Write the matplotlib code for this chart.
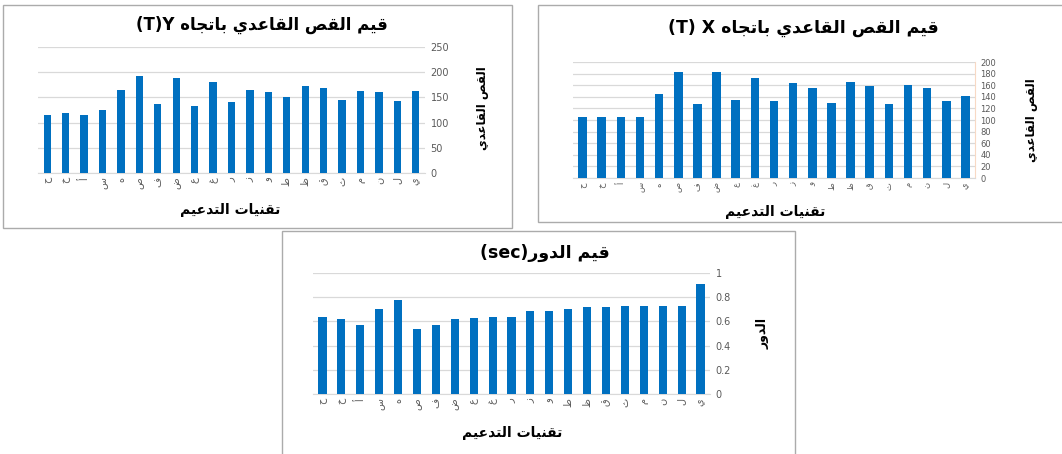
import matplotlib
matplotlib.use("Agg")
import matplotlib.pyplot as plt
from matplotlib.patches import Rectangle

# --- data -------------------------------------------------------------
support_types = ['ح', 'خ', 'أ', 'س', 'ه', 'ص', 'ف', 'ض', 'ع', 'غ', 'ر',
                 'ز', 'و', 'ط', 'ظ', 'ق', 'ث', 'م', 'ن', 'ل', 'ي']

shear_y = [115, 120, 115, 125, 165, 193, 137, 188, 133, 180, 140,
           165, 160, 150, 173, 168, 145, 163, 160, 143, 163]

shear_x = [105, 105, 105, 105, 145, 182, 128, 182, 135, 172, 132,
           163, 155, 130, 165, 158, 127, 160, 155, 132, 142]

period = [0.64, 0.62, 0.57, 0.70, 0.78, 0.54, 0.57, 0.62, 0.63, 0.64, 0.64,
          0.69, 0.69, 0.70, 0.72, 0.72, 0.73, 0.73, 0.73, 0.73, 0.91]

yticks_y = [0, 50, 100, 150, 200, 250]
yticks_x = [0, 20, 40, 60, 80, 100, 120, 140, 160, 180, 200]
yticks_p = [0, 0.2, 0.4, 0.6, 0.8, 1]

# --- minimal arabic shaping (matplotlib has no shaper) -----------------
FORMS = {
    'ا': (0xFE8D, 0xFE8E), 'أ': (0xFE83, 0xFE84), 'د': (0xFEA9, 0xFEAA),
    'ذ': (0xFEAB, 0xFEAC), 'ر': (0xFEAD, 0xFEAE), 'ز': (0xFEAF, 0xFEB0),
    'و': (0xFEED, 0xFEEE),
    'ب': (0xFE8F, 0xFE90, 0xFE91, 0xFE92), 'ت': (0xFE95, 0xFE96, 0xFE97, 0xFE98),
    'ث': (0xFE99, 0xFE9A, 0xFE9B, 0xFE9C), 'ج': (0xFE9D, 0xFE9E, 0xFE9F, 0xFEA0),
    'ح': (0xFEA1, 0xFEA2, 0xFEA3, 0xFEA4), 'خ': (0xFEA5, 0xFEA6, 0xFEA7, 0xFEA8),
    'س': (0xFEB1, 0xFEB2, 0xFEB3, 0xFEB4), 'ص': (0xFEB9, 0xFEBA, 0xFEBB, 0xFEBC),
    'ض': (0xFEBD, 0xFEBE, 0xFEBF, 0xFEC0), 'ط': (0xFEC1, 0xFEC2, 0xFEC3, 0xFEC4),
    'ظ': (0xFEC5, 0xFEC6, 0xFEC7, 0xFEC8), 'ع': (0xFEC9, 0xFECA, 0xFECB, 0xFECC),
    'غ': (0xFECD, 0xFECE, 0xFECF, 0xFED0), 'ف': (0xFED1, 0xFED2, 0xFED3, 0xFED4),
    'ق': (0xFED5, 0xFED6, 0xFED7, 0xFED8), 'ل': (0xFEDD, 0xFEDE, 0xFEDF, 0xFEE0),
    'م': (0xFEE1, 0xFEE2, 0xFEE3, 0xFEE4), 'ن': (0xFEE5, 0xFEE6, 0xFEE7, 0xFEE8),
    'ه': (0xFEE9, 0xFEEA, 0xFEEB, 0xFEEC), 'ي': (0xFEF1, 0xFEF2, 0xFEF3, 0xFEF4),
}


def ar(text):
    out = []
    for i, ch in enumerate(text):
        if ch not in FORMS:
            out.append(ch)
            continue
        prev = text[i - 1] if i > 0 else ''
        nxt = text[i + 1] if i + 1 < len(text) else ''
        join_prev = prev in FORMS and len(FORMS[prev]) == 4
        join_next = len(FORMS[ch]) == 4 and nxt in FORMS
        f = FORMS[ch]
        if join_prev and join_next:
            out.append(chr(f[3]))
        elif join_prev:
            out.append(chr(f[1]))
        elif join_next:
            out.append(chr(f[2]))
        else:
            out.append(chr(f[0]))
    return ''.join(reversed(out))


# --- figure -----------------------------------------------------------
W, H = 1062, 454
fig = plt.figure(figsize=(W / 100, H / 100), dpi=100)
plt.rcParams['font.family'] = ['DejaVu Sans']

BLUE = '#0070C0'
GRID = '#D9D9D9'
TICK = '#595959'


def fx(px):
    return px / W


def fy(py):
    return 1 - py / H


def frame(x0, y0, x1, y1, z):
    fig.patches.append(Rectangle((fx(x0), fy(y1)), fx(x1) - fx(x0), fy(y0) - fy(y1),
                                 transform=fig.transFigure, facecolor='white',
                                 edgecolor='#ABABAB', linewidth=1.0, zorder=z))


def panel(plot, values, yticks, ylabels, width, tick_size, z):
    left, right, top, bottom = plot
    ax = fig.add_axes([fx(left), fy(bottom), fx(right) - fx(left), fy(top) - fy(bottom)],
                      zorder=z)
    ax.patch.set_alpha(0)
    xs = range(len(values))
    ax.bar(xs, values, width=width, color=BLUE, zorder=3)
    ax.set_xlim(-0.5, len(values) - 0.5)
    ax.set_ylim(yticks[0], yticks[-1])
    ax.set_yticks(yticks)
    ax.set_yticklabels(ylabels)
    ax.yaxis.tick_right()
    ax.set_xticks(list(xs))
    ax.set_xticklabels([ar(s) for s in support_types], rotation=90)
    ax.grid(axis='y', color=GRID, linewidth=0.9, zorder=0)
    for s in ['top', 'left', 'right']:
        ax.spines[s].set_visible(False)
    ax.spines['bottom'].set_color(GRID)
    ax.tick_params(length=0, labelsize=tick_size, colors=TICK)
    ax.tick_params(axis='y', pad=4)
    ax.tick_params(axis='x', pad=3)
    return ax


# top-left: shear in Y direction
frame(3, 5, 512, 228, 1)
panel((38, 425, 47, 173), shear_y, yticks_y, [str(v) for v in yticks_y], 0.4, 7, 2)
fig.text(fx(262), fy(25), '(T)Y ' + ar('قيم القص القاعدي باتجاه'),
         ha='center', va='center', fontsize=12, fontweight='bold', zorder=5)
fig.text(fx(230), fy(210), ar('تقنيات التدعيم'), ha='center', va='center',
         fontsize=10, fontweight='bold', zorder=5)
fig.text(fx(483), fy(108), ar('القص القاعدي'), ha='center', va='center',
         rotation=90, fontsize=8.5, fontweight='bold', zorder=5)

# top-right: shear in X direction
frame(538, 5, 1075, 222, 1)
ax2 = panel((573, 975, 62, 178), shear_x, yticks_x, [str(v) for v in yticks_x], 0.45, 6, 2)
ax2.spines['right'].set_visible(True)
ax2.spines['right'].set_color('#F8D9C4')
fig.text(fx(803), fy(28), '(T) X ' + ar('قيم القص القاعدي باتجاه'),
         ha='center', va='center', fontsize=12.5, fontweight='bold', zorder=5)
fig.text(fx(775), fy(212), ar('تقنيات التدعيم'), ha='center', va='center',
         fontsize=10, fontweight='bold', zorder=5)
fig.text(fx(1032), fy(120), ar('القص القاعدي'), ha='center', va='center',
         rotation=90, fontsize=8.5, fontweight='bold', zorder=5)

# bottom: period
frame(282, 231, 795, 456, 6)
panel((313, 710, 273, 394), period, yticks_p, ['0', '0.2', '0.4', '0.6', '0.8', '1'],
      0.43, 7, 7)
fig.text(fx(545), fy(253), '(sec)' + ar('قيم الدور'), ha='center', va='center',
         fontsize=12.5, fontweight='bold', zorder=8)
fig.text(fx(512), fy(433), ar('تقنيات التدعيم'), ha='center', va='center',
         fontsize=10, fontweight='bold', zorder=8)
fig.text(fx(763), fy(333), ar('الدور'), ha='center', va='center',
         rotation=90, fontsize=9, fontweight='bold', zorder=8)

fig.savefig('out.png', dpi=100, facecolor='white')
